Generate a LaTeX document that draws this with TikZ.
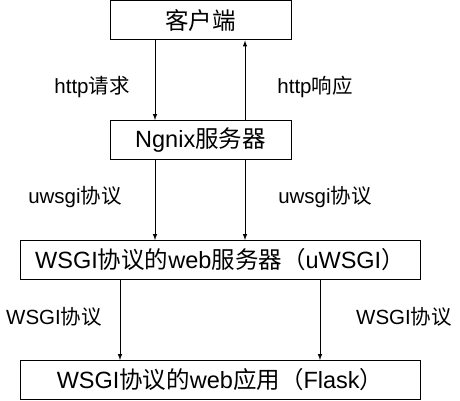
\documentclass[tikz,border=0pt]{standalone}
\usepackage{fontspec}
\setmainfont{Liberation Sans}
\newfontfamily\cjk{Noto Sans CJK SC}
\begin{document}
\begin{tikzpicture}[x=1pt,y=-1pt]
    \useasboundingbox (0,0) rectangle (460,401);

    \tikzstyle{box}=[draw=black,line width=1pt,minimum height=39pt,inner sep=0pt,font=\fontsize{23.5}{27}\selectfont]
    \tikzstyle{sbox}=[box,minimum width=181pt]
    \tikzstyle{bbox}=[box,minimum width=400pt]
    \tikzstyle{label}=[inner sep=0pt,font=\fontsize{20.5}{24}\selectfont]

    \node[sbox] (client) at (200.5,20.5) {{\cjk 客户端}};
    \node[sbox] (nginx) at (200.5,140) {Ngnix{\cjk 服务器}};
    \node[bbox] (uwsgi) at (220,260) {WSGI{\cjk 协议的}web{\cjk 服务器（}uWSGI{\cjk ）}};
    \node[bbox] (flask) at (220,380) {WSGI{\cjk 协议的}web{\cjk 应用（}Flask{\cjk ）}};

    \node[label] (req) at (92,87) {http{\cjk 请求}};
    \node[label] (resp) at (315,87) {http{\cjk 响应}};
    \node[label] (uw1) at (75,197) {uwsgi{\cjk 协议}};
    \node[label] (uw2) at (325,197) {uwsgi{\cjk 协议}};
    \node[label] (ws1) at (54,317) {WSGI{\cjk 协议}};
    \node[label] (ws2) at (404,317) {WSGI{\cjk 协议}};

    \pgfsetarrowsend{latex}
    \tikzstyle{fwd} = [draw=black, line width=1pt]

    \draw [fwd] ([xshift=-45.5pt]client.south) -- ([xshift=-45.5pt]nginx.north);
    \draw [fwd] ([xshift=44.5pt]nginx.north) -- ([xshift=44.5pt]client.south);

    \draw [fwd] ([xshift=-45.5pt]nginx.south) -- ([xshift=-45.5pt]nginx.south |- uwsgi.north);
    \draw [fwd] ([xshift=44.5pt]nginx.south) -- ([xshift=44.5pt]nginx.south |- uwsgi.north);

    \draw [fwd] ([xshift=-100pt]uwsgi.south) -- ([xshift=-100pt]flask.north);
    \draw [fwd] ([xshift=100pt]uwsgi.south) -- ([xshift=100pt]flask.north);
\end{tikzpicture}
\end{document}
